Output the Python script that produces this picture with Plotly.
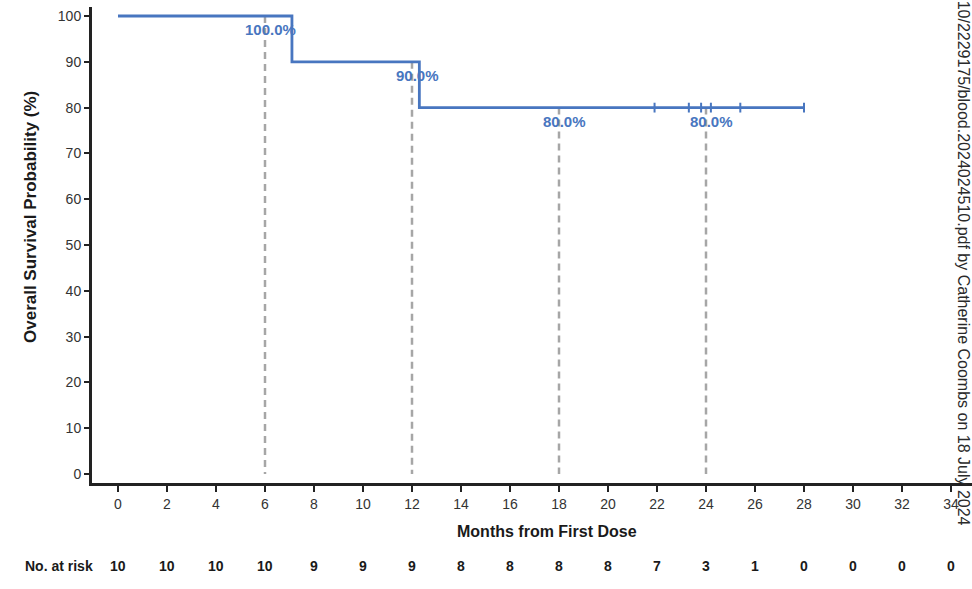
import plotly.graph_objects as go

# ---------------- data ----------------
km_time = [0, 7.1, 12.3, 28.0]
km_surv = [100, 90, 80, 80]
censor_time = [21.9, 23.3, 23.8, 24.2, 25.4, 28.0]
censor_surv = [80, 80, 80, 80, 80, 80]
landmark_time = [6, 12, 18, 24]
landmark_surv = [100, 90, 80, 80]
landmark_label = ["100.0%", "90.0%", "80.0%", "80.0%"]
risk_time = [0, 2, 4, 6, 8, 10, 12, 14, 16, 18, 20, 22, 24, 26, 28, 30, 32, 34]
risk_n = [10, 10, 10, 10, 9, 9, 9, 8, 8, 8, 8, 7, 3, 1, 0, 0, 0, 0]
y_ticks = [0, 10, 20, 30, 40, 50, 60, 70, 80, 90, 100]

BLUE = "#4876C0"
GRAY = "#A6A6A6"
FONT = "Liberation Sans, Arial, sans-serif"

W, H = 972, 589
L, R, T, B = 92, 0, 7, 106
plot_w = W - L - R
plot_h = H - T - B


def xp(px):
    return (px - L) / plot_w


def yp(py):
    return (H - B - py) / plot_h


fig = go.Figure()

# landmark dashed lines
for t, s in zip(landmark_time, landmark_surv):
    fig.add_trace(go.Scatter(x=[t, t], y=[s, 0], mode="lines",
                             line=dict(color=GRAY, width=2.5, dash="7px,5px"),
                             hoverinfo="skip", showlegend=False))

# KM curve
fig.add_trace(go.Scatter(x=km_time, y=km_surv, mode="lines", line_shape="hv",
                         line=dict(color=BLUE, width=2.8), showlegend=False))

# censor marks
fig.add_trace(go.Scatter(x=censor_time, y=censor_surv, mode="markers",
                         marker=dict(symbol="line-ns", size=7,
                                     line=dict(color=BLUE, width=2)),
                         showlegend=False))

annotations = []
for t, s, lab in zip(landmark_time, landmark_surv, landmark_label):
    annotations.append(dict(x=t + 0.23, y=s - 3.0, xref="x", yref="y", text=lab,
                            showarrow=False, xanchor="center", yanchor="middle",
                            font=dict(family=FONT, size=15, color=BLUE, weight="bold")))

for t, n in zip(risk_time, risk_n):
    annotations.append(dict(x=t, y=yp(565.7), xref="x", yref="paper", text=str(n),
                            showarrow=False, xanchor="center", yanchor="middle",
                            font=dict(family=FONT, size=14, color="#1a1a1a", weight="bold")))

annotations.append(dict(x=xp(95), y=yp(565.7), xref="paper", yref="paper",
                        text="No. at risk", showarrow=False, xanchor="right",
                        yanchor="middle",
                        font=dict(family=FONT, size=14, color="#1a1a1a", weight="bold")))

annotations.append(dict(x=17.5, y=yp(531), xref="x", yref="paper",
                        text="Months from First Dose", showarrow=False,
                        xanchor="center", yanchor="middle",
                        font=dict(family=FONT, size=16, color="#1a1a1a", weight="bold")))

annotations.append(dict(x=xp(30), y=yp(217), xref="paper", yref="paper",
                        text="Overall Survival Probability (%)", showarrow=False,
                        textangle=-90, xanchor="center", yanchor="middle",
                        font=dict(family=FONT, size=17, color="#1a1a1a", weight="bold")))

annotations.append(dict(x=xp(963), y=yp(527), xref="paper", yref="paper",
                        text="Downloaded from http://ashpublications.org/blood/article-pdf/doi/10.1182/blood.2024024510/2229175/blood.2024024510.pdf by Catherine Coombs on 18 July 2024",
                        showarrow=False, textangle=90, xanchor="center", yanchor="bottom",
                        font=dict(family=FONT, size=16, color="#2a2a2a")))

fig.update_layout(
    width=W, height=H, autosize=False,
    margin=dict(l=L, r=R, t=T, b=B, pad=0),
    paper_bgcolor="white", plot_bgcolor="white",
    showlegend=False,
    annotations=annotations,
    xaxis=dict(range=[-1.061, 34.857], tickmode="array", tickvals=risk_time,
               ticktext=[str(v) for v in risk_time],
               showgrid=False, zeroline=False, showline=True, linecolor="#222",
               linewidth=3, ticks="outside", ticklen=6, tickwidth=2, tickcolor="#222",
               tickfont=dict(family=FONT, size=14, color="#333")),
    yaxis=dict(range=[-1.965, 101.97], tickmode="array", tickvals=y_ticks,
               showgrid=False, zeroline=False, showline=True, linecolor="#222",
               linewidth=3, ticks="outside", ticklen=5, tickwidth=1.5, tickcolor="#222",
               tickfont=dict(family=FONT, size=14, color="#333")),
)

fig.write_html("out.html", config={"displayModeBar": False},
               post_script="document.body.style.margin='0';document.body.style.overflow='hidden';")
